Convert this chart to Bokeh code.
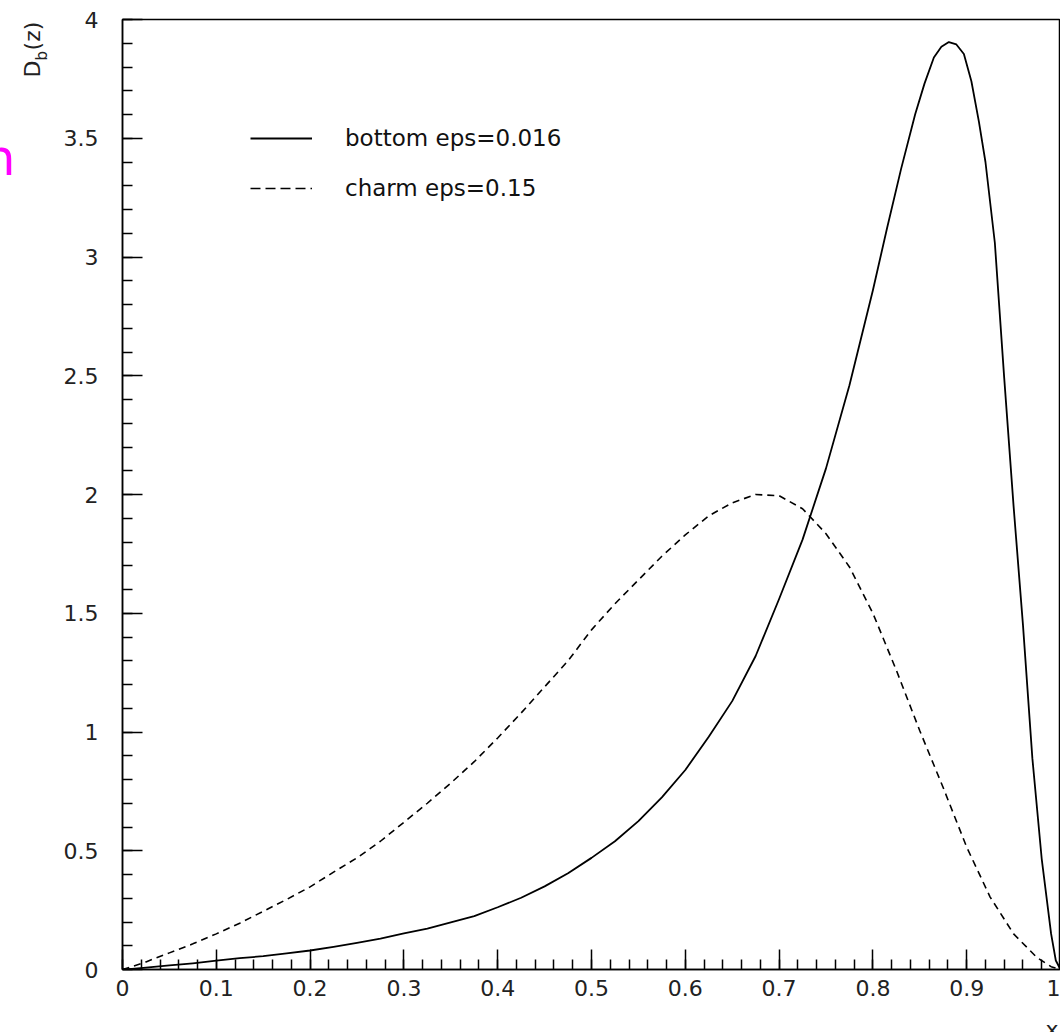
import math
from bokeh.plotting import figure
from bokeh.models import (Range1d, FixedTicker, Legend, LegendItem)
from bokeh.core.properties import value
from bokeh.embed import file_html
from bokeh.resources import INLINE

# ---- data ----
bottom_z = [0.0, 0.01, 0.025, 0.05, 0.075, 0.1, 0.125, 0.15, 0.175, 0.2, 0.225, 0.25,
            0.275, 0.3, 0.325, 0.35, 0.375, 0.4, 0.425, 0.45, 0.475, 0.5, 0.525, 0.55,
            0.575, 0.6, 0.625, 0.65, 0.675, 0.7, 0.725, 0.75, 0.775, 0.8, 0.815, 0.83,
            0.845, 0.855, 0.865, 0.873, 0.881, 0.889, 0.897, 0.905, 0.913, 0.92, 0.93,
            0.94, 0.95, 0.96, 0.97, 0.98, 0.99, 0.995, 1.0]
bottom_d = [0.0, 0.003, 0.008, 0.017, 0.026, 0.037, 0.048, 0.056, 0.068, 0.08, 0.095,
            0.112, 0.13, 0.152, 0.172, 0.198, 0.225, 0.262, 0.302, 0.35, 0.405, 0.47,
            0.54, 0.625, 0.725, 0.84, 0.98, 1.13, 1.32, 1.56, 1.81, 2.11, 2.46, 2.86,
            3.12, 3.37, 3.60, 3.73, 3.84, 3.885, 3.905, 3.895, 3.855, 3.74, 3.57, 3.40,
            3.06, 2.49, 1.95, 1.45, 0.89, 0.465, 0.15, 0.038, 0.0]

charm_z = [0.0, 0.01, 0.025, 0.05, 0.075, 0.1, 0.125, 0.15, 0.175, 0.2, 0.225, 0.25,
           0.275, 0.3, 0.325, 0.35, 0.375, 0.4, 0.425, 0.45, 0.475, 0.5, 0.525, 0.55,
           0.575, 0.6, 0.625, 0.65, 0.675, 0.7, 0.725, 0.75, 0.775, 0.8, 0.825, 0.85,
           0.875, 0.9, 0.925, 0.95, 0.975, 0.99, 1.0]
charm_d = [0.0, 0.012, 0.032, 0.07, 0.108, 0.15, 0.195, 0.245, 0.295, 0.348, 0.41,
           0.47, 0.54, 0.62, 0.70, 0.785, 0.875, 0.975, 1.08, 1.19, 1.30, 1.43, 1.54,
           1.64, 1.74, 1.83, 1.91, 1.965, 2.0, 1.995, 1.94, 1.835, 1.695, 1.50, 1.26,
           1.005, 0.765, 0.515, 0.305, 0.15, 0.05, 0.012, 0.0]

series_labels = ["bottom eps=0.016", "charm eps=0.15"]
y_title = ["D", "b", "(z)"]
x_title = "x"
edge_fragment = "n"

x_ticks = [0.0, 0.1, 0.2, 0.3, 0.4, 0.5, 0.6, 0.7, 0.8, 0.9, 1.0]
x_tick_labels = ["0", "0.1", "0.2", "0.3", "0.4", "0.5", "0.6", "0.7", "0.8", "0.9", "1"]
y_ticks = [0.0, 0.5, 1.0, 1.5, 2.0, 2.5, 3.0, 3.5, 4.0]
y_tick_labels = ["0", "0.5", "1", "1.5", "2", "2.5", "3", "3.5", "4"]

x_minor = [round(i * 0.02, 2) for i in range(51)]
y_minor = [round(i * 0.1, 1) for i in range(41)]

FONT = "DejaVu Sans"
TXT = "#222222"

p = figure(width=1060, height=1032, output_backend="svg", toolbar_location=None,
           x_range=Range1d(0, 1), y_range=Range1d(0, 4),
           min_border_left=122, min_border_right=0, min_border_top=19,
           min_border_bottom=63)
p.background_fill_color = "white"
p.border_fill_color = "white"
p.outline_line_color = "black"
p.outline_line_width = 1.5
p.xgrid.visible = False
p.ygrid.visible = False

for ax, ticks, minor, labels in ((p.xaxis[0], x_ticks, x_minor, x_tick_labels),
                                 (p.yaxis[0], y_ticks, y_minor, y_tick_labels)):
    ax.ticker = FixedTicker(ticks=ticks, minor_ticks=minor)
    ax.major_label_overrides = {t: l for t, l in zip(ticks, labels)}
    ax.axis_line_color = "black"
    ax.axis_line_width = 1.5
    ax.major_tick_in = 20
    ax.major_tick_out = 0
    ax.minor_tick_in = 10
    ax.minor_tick_out = 0
    ax.major_tick_line_width = 1.5
    ax.minor_tick_line_width = 1.5
    ax.major_tick_line_color = "black"
    ax.minor_tick_line_color = "black"
    ax.major_label_text_font = FONT
    ax.major_label_text_font_size = "22px"
    ax.major_label_text_color = TXT

p.xaxis[0].major_label_standoff = 10
p.yaxis[0].major_label_standoff = 24

p.line(bottom_z, bottom_d, line_color="black", line_width=1.8, line_join="round")
p.line(charm_z, charm_d, line_color="black", line_width=1.6, line_dash="7 5")

# legend samples (no visible data of their own)
nan = float("nan")
r_b = p.line([nan], [nan], line_color="black", line_width=1.8)
r_c = p.line([nan], [nan], line_color="black", line_width=1.6, line_dash="10 5")
legend = Legend(items=[LegendItem(label=series_labels[0], renderers=[r_b]),
                       LegendItem(label=series_labels[1], renderers=[r_c])],
                location=(128, 767), glyph_width=62, glyph_height=28,
                label_height=28, label_standoff=33, spacing=22, padding=0,
                margin=0, border_line_color=None, background_fill_alpha=0,
                label_text_font=FONT, label_text_font_size="23px",
                label_text_color="#111111")
p.add_layout(legend)

# titles outside the frame, drawn as overlay-level text glyphs
p.text(x=[-0.0959, -0.0855, -0.0959], y=[3.756, 3.827, 3.870],
       text=y_title, angle=math.pi / 2, text_align="left", text_baseline="middle",
       text_font=value(FONT), text_font_size=["22px", "15px", "22px"],
       text_color=TXT, level="overlay")
p.text(x=[0.9979], y=[-0.2526], text=[x_title], text_align="right",
       text_baseline="alphabetic", text_font=value(FONT),
       text_font_size=value("22px"), text_color=TXT, level="overlay")
p.text(x=[-0.1141], y=[3.415], text=[edge_fragment], text_align="right",
       text_baseline="alphabetic", text_font=value(FONT),
       text_font_size=value("50px"), text_color="#ff00ff", level="overlay")

open("out.html", "w").write(file_html(p, INLINE))
